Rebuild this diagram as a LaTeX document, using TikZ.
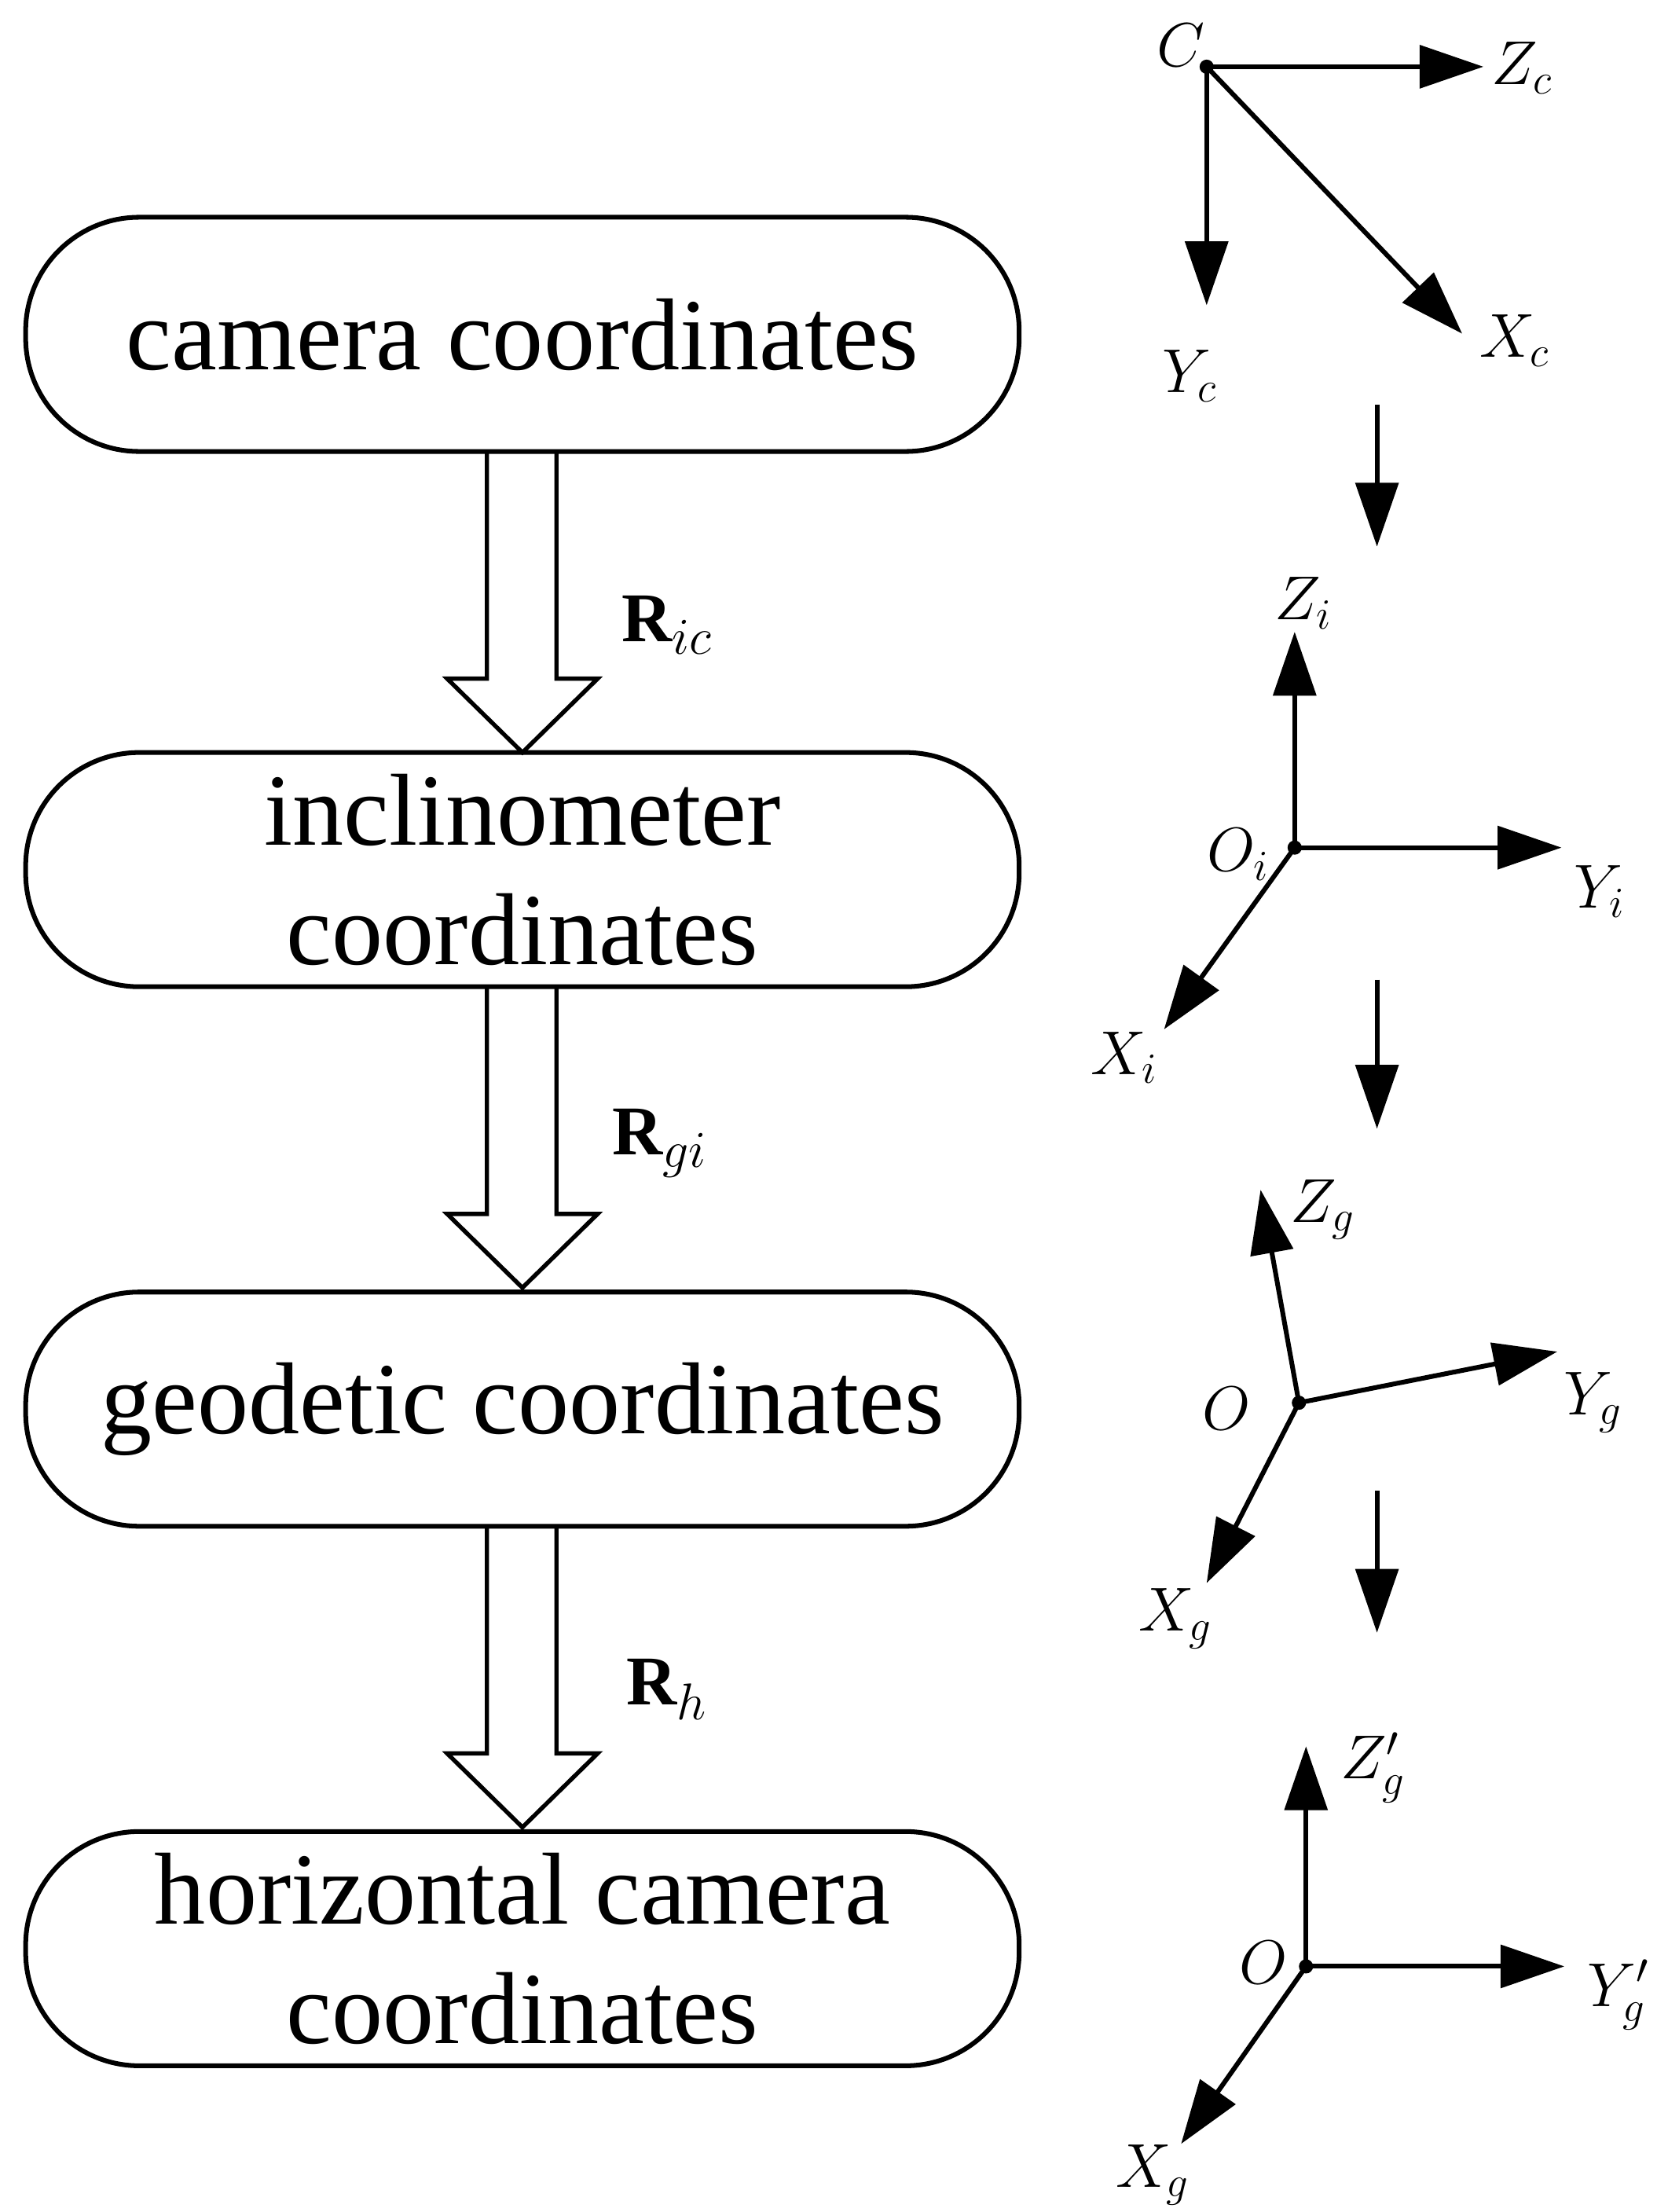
\documentclass[tikz,border=0pt]{standalone}
\usepackage{fontspec}
\setmainfont{Liberation Serif}
\usetikzlibrary{arrows.meta}
\begin{document}
\begin{tikzpicture}[x=0.02cm,y=-0.02cm,line width=1.9pt,
 box/.style={draw,rounded corners=1.6cm,minimum width=14cm,minimum height=3.3cm,align=center,font=\fontsize{41}{48}\selectfont,inner sep=0pt},
 ax/.style={-{Triangle[length=0.9cm,width=0.6cm]}},
 lab/.style={font=\fontsize{27}{30}\selectfont,inner sep=0pt},
 rl/.style={font=\fontsize{28}{32}\selectfont,inner sep=0pt}]
\useasboundingbox (0,0) rectangle (1167,1558);
\node[box] (b1) at (368,235.5) {camera coordinates};
\node[box] (b2) at (368,612.5) {inclinometer\\coordinates};
\node[box] (b3) at (368,992.5) {geodetic coordinates};
\node[box] (b4) at (368,1372.5) {horizontal camera\\coordinates};
% hollow arrows
\foreach \t/\n in {318/1,695/2,1075/3}{
 \draw[line width=1.7pt,line join=miter] (343,\t) -- (343,\t+160) -- (315,\t+160) -- (368,\t+212) -- (421,\t+160) -- (392,\t+160) -- (392,\t) ;
}
\node[rl] (r1) at (470,440) {$\mathbf{R}_{ic}$};
\node[rl] (r2) at (465,805) {$\mathbf{R}_{gi}$};
\node[rl] (r3) at (470,1190) {$\mathbf{R}_{h}$};
% frame c
\coordinate (C) at (850,47);
\fill (C) circle (0.1cm);
\coordinate (Zc) at (1045,47); \coordinate (Yc) at (850,215); \coordinate (Xc) at (1030,235);
\draw[ax] (C) -- (Zc); \draw[ax] (C) -- (Yc); \draw[ax] (C) -- (Xc);
\node[lab] (lC) at (832,32) {$C$};
\node[lab] (lZc) at (1072,48) {$Z_c$};
\node[lab] (lYc) at (838,265) {$Y_c$};
\node[lab] (lXc) at (1067,240) {$X_c$};
% down arrows
\coordinate (d1a) at (970,285); \coordinate (d1b) at (970,385);
\coordinate (d2a) at (970,690); \coordinate (d2b) at (970,795);
\coordinate (d3a) at (970,1050); \coordinate (d3b) at (970,1150);
\draw[ax] (d1a) -- (d1b); \draw[ax] (d2a) -- (d2b); \draw[ax] (d3a) -- (d3b);
% frame i
\coordinate (Oi) at (912,597); \fill (Oi) circle (0.1cm);
\coordinate (Zi) at (912,445); \coordinate (Yi) at (1100,597); \coordinate (Xi) at (820,725);
\draw[ax] (Oi) -- (Zi); \draw[ax] (Oi) -- (Yi); \draw[ax] (Oi) -- (Xi);
\node[lab] (lZi) at (918,425) {$Z_i$};
\node[lab] (lOi) at (872,602) {$O_i$};
\node[lab] (lYi) at (1127,628) {$Y_i$};
\node[lab] (lXi) at (792,745) {$X_i$};
% frame g
\coordinate (Og) at (915,988); \fill (Og) circle (0.1cm);
\coordinate (Zg) at (888,838); \coordinate (Yg) at (1097,952); \coordinate (Xg) at (850,1115);
\draw[ax] (Og) -- (Zg); \draw[ax] (Og) -- (Yg); \draw[ax] (Og) -- (Xg);
\node[lab] (lZg) at (932,852) {$Z_g$};
\node[lab] (lOg) at (864,992) {$O$};
\node[lab] (lYg) at (1122,988) {$Y_g$};
\node[lab] (lXg) at (828,1140) {$X_g$};
% frame g'
\coordinate (Oh) at (920,1385); \fill (Oh) circle (0.1cm);
\coordinate (Zh) at (920,1230); \coordinate (Yh) at (1102,1385); \coordinate (Xh) at (832,1510);
\draw[ax] (Oh) -- (Zh); \draw[ax] (Oh) -- (Yh); \draw[ax] (Oh) -- (Xh);
\node[lab] (lZh) at (967,1245) {$Z'_g$};
\node[lab] (lOh) at (890,1382) {$O$};
\node[lab] (lYh) at (1140,1405) {$Y'_g$};
\node[lab] (lXh) at (812,1532) {$X_g$};
\end{tikzpicture}
\end{document}
